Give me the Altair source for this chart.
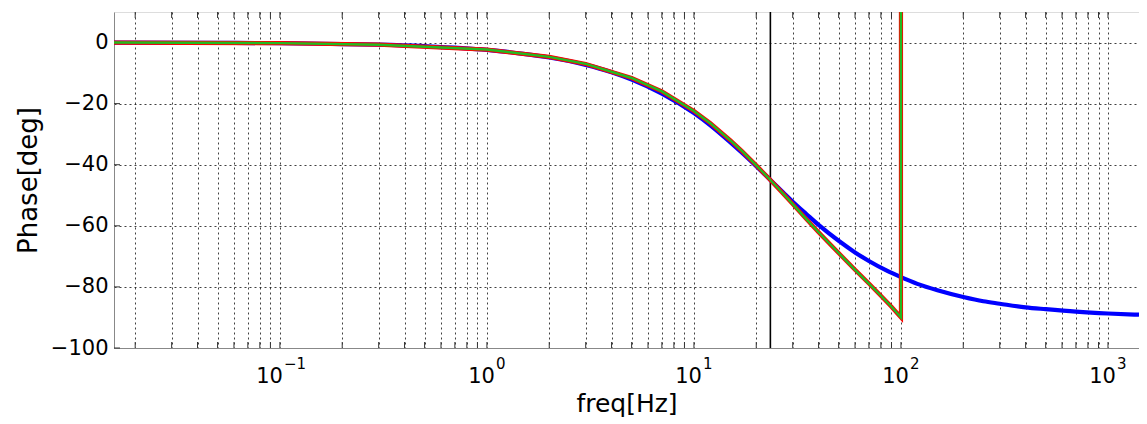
import altair as alt
import pandas as pd

# ---- data ----
blue_freq = [0.0158, 0.05, 0.1, 0.2, 0.3, 0.5, 1, 1.5, 2, 3, 4, 5, 7, 10, 12, 15, 17, 20,
             23.4, 27, 30, 35, 40, 50, 60, 70, 85, 100, 120, 150, 200, 250, 300, 400,
             500, 700, 1000, 1412]
blue_phase = [0.0, -0.1, -0.2, -0.5, -0.7, -1.2, -2.4, -3.7, -4.9, -7.3, -9.7, -12.1, -16.7,
              -23.1, -27.1, -32.7, -36.0, -40.5, -45.0, -49.1, -52.1, -56.2, -59.7, -64.9,
              -68.7, -71.5, -74.6, -76.8, -79.0, -81.1, -83.3, -84.7, -85.5, -86.7, -87.3,
              -88.1, -88.7, -89.1]

green_freq = [0.0158, 0.1, 0.3, 1, 2, 3, 5, 7, 10, 12, 15, 17, 20, 23.4, 27, 30, 35, 40,
              45, 50, 60, 70, 80, 90, 95, 100, 100]
green_phase = [0.0, -0.2, -0.7, -2.3, -4.7, -7.0, -11.6, -16.0, -22.4, -26.4, -32.0, -35.4,
               -40.2, -45.0, -49.5, -52.9, -57.9, -62.1, -65.7, -68.9, -74.4, -78.9, -82.9,
               -86.5, -88.3, -90.0, 90.0]

red_freq = green_freq
red_phase = green_phase

marker_freq = [23.4]

x_ticks = [0.02, 0.03, 0.04, 0.05, 0.06, 0.07, 0.08, 0.09,
           0.1, 0.2, 0.3, 0.4, 0.5, 0.6, 0.7, 0.8, 0.9,
           1, 2, 3, 4, 5, 6, 7, 8, 9,
           10, 20, 30, 40, 50, 60, 70, 80, 90,
           100, 200, 300, 400, 500, 600, 700, 800, 900,
           1000]
y_ticks = [-100, -80, -60, -40, -20, 0]

decade_values = [0.1, 1, 10, 100, 1000]
decade_base = ["10", "10", "10", "10", "10"]
decade_exp = ["−1", "0", "1", "2", "3"]

x_domain = [0.0158, 1412]
y_domain = [-100, 10]

FONT = "DejaVu Sans"

blue_df = pd.DataFrame({"f": blue_freq, "p": blue_phase})
green_df = pd.DataFrame({"f": green_freq, "p": green_phase, "i": list(range(len(green_freq)))})
red_df = pd.DataFrame({"f": red_freq, "p": red_phase, "i": list(range(len(red_freq)))})
marker_df = pd.DataFrame({"f": marker_freq})
xt_df = pd.DataFrame({"f": x_ticks})
yt_df = pd.DataFrame({"p": y_ticks})
lab_df = pd.DataFrame({"f": decade_values, "b": decade_base, "e": decade_exp,
                       "neg": [e.startswith("−") for e in decade_exp]})

xscale = alt.Scale(type="log", domain=x_domain, nice=False)
yscale = alt.Scale(domain=y_domain, nice=False, zero=False)

x_axis = alt.Axis(values=x_ticks, labels=False, title="freq[Hz]",
                  grid=True, gridDash=[2, 3], gridColor="#000000", gridOpacity=0.75,
                  ticks=False,
                  titleFont=FONT, titleFontSize=25, titleFontWeight="normal",
                  titleColor="#000000", titlePadding=43,
                  domainColor="#888888")
y_axis = alt.Axis(values=y_ticks, title="Phase[deg]",
                  grid=True, gridDash=[2, 3], gridColor="#000000", gridOpacity=0.75,
                  ticks=False, labelPadding=6, labelFontSize=21, labelFont=FONT,
                  labelColor="#000000",
                  titleFont=FONT, titleFontSize=26, titleFontWeight="normal",
                  titleColor="#000000", titlePadding=9,
                  domainColor="#888888")

base_axes = alt.Chart(blue_df).mark_line(strokeWidth=0, opacity=0).encode(
    x=alt.X("f:Q", scale=xscale, axis=x_axis),
    y=alt.Y("p:Q", scale=yscale, axis=y_axis),
)

blue = alt.Chart(blue_df).mark_line(color="#0000FF", strokeWidth=4.2, interpolate="monotone",
                                    clip=True).encode(
    x=alt.X("f:Q", scale=xscale), y=alt.Y("p:Q", scale=yscale))

red = alt.Chart(red_df).mark_line(color="#FF0000", strokeWidth=4.2, clip=True).encode(
    x=alt.X("f:Q", scale=xscale), y=alt.Y("p:Q", scale=yscale), order="i:Q")

green = alt.Chart(green_df).mark_line(color="#22BB22", strokeWidth=2.4, clip=True).encode(
    x=alt.X("f:Q", scale=xscale), y=alt.Y("p:Q", scale=yscale), order="i:Q")

marker = alt.Chart(marker_df).mark_rule(color="#000000", strokeWidth=1.6).encode(
    x=alt.X("f:Q", scale=xscale))

xticks_bottom = alt.Chart(xt_df).mark_rule(color="#333333", strokeWidth=1).encode(
    x=alt.X("f:Q", scale=xscale), y=alt.value(336), y2=alt.value(330))
xticks_top = alt.Chart(xt_df).mark_rule(color="#333333", strokeWidth=1).encode(
    x=alt.X("f:Q", scale=xscale), y=alt.value(0), y2=alt.value(6))
yticks_left = alt.Chart(yt_df).mark_rule(color="#333333", strokeWidth=1).encode(
    y=alt.Y("p:Q", scale=yscale), x=alt.value(0), x2=alt.value(6))


def label_layers(neg, dx):
    src = alt.Chart(lab_df).transform_filter(
        "datum.neg" if neg else "!datum.neg")
    base = src.mark_text(font=FONT, fontSize=21, align="right", baseline="alphabetic",
                         dx=dx, color="#000000").encode(
        x=alt.X("f:Q", scale=xscale), y=alt.value(371), text="b:N")
    sup = src.mark_text(font=FONT, fontSize=15, align="left", baseline="alphabetic",
                        dx=dx + 1, color="#000000").encode(
        x=alt.X("f:Q", scale=xscale), y=alt.value(357), text="e:N")
    return [base, sup]


labels = label_layers(True, 3) + label_layers(False, 8)

chart = alt.layer(
    base_axes, xticks_bottom, xticks_top, yticks_left, marker, blue, red, green, *labels
).properties(
    width=1025, height=336,
    autosize=alt.AutoSizeParams(type="none"),
    padding={"left": 106, "top": 4, "right": 0, "bottom": 76},
).configure_view(
    stroke="#888888", strokeWidth=1
).configure(background="#FFFFFF")

chart.save("out.html", embed_options={"renderer": "svg", "actions": False})
